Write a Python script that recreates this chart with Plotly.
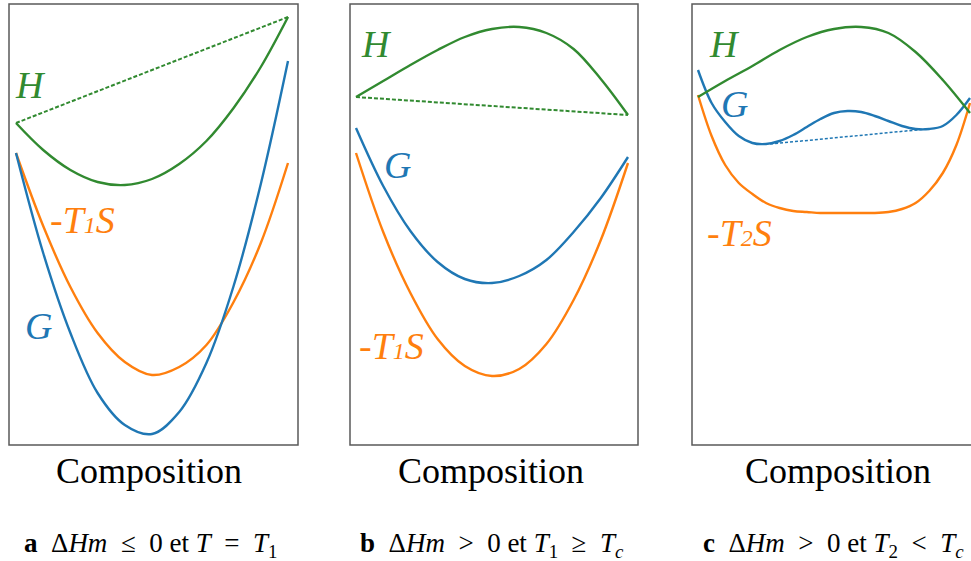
"""
Free-energy of mixing sketches: H, -TS and G versus composition (three cases).
"""

import plotly.graph_objects as go

# composition grid (fraction across each panel)
comp = [0.0, 0.1, 0.2, 0.3, 0.4, 0.5, 0.6, 0.7, 0.8, 0.9, 1.0]
comp_fine = [0.0, 0.05, 0.1, 0.15, 0.2, 0.25, 0.3, 0.35, 0.4, 0.45, 0.5,
             0.55, 0.6, 0.65, 0.7, 0.75, 0.8, 0.85, 0.9, 0.95, 1.0]

# panel a : dHm <= 0, T = T1
h_a = [322, 295, 275, 263, 260, 266, 281, 304, 337, 378, 428]
ts_a = [292, 219, 158, 112, 83, 70, 78, 100, 143, 202, 282]
g_a = [292, 192, 112, 52, 20, 11, 33, 82, 159, 261, 384]
h_a_chord = [322, 428]

# panel b : dHm > 0, T1 >= Tc
h_b = [348, 364, 380, 395, 408, 416, 418, 412, 396, 366, 330]
ts_b = [292, 213, 152, 106, 79, 69, 76, 101, 145, 205, 282]
g_b = [317, 259, 214, 183, 166, 162, 169, 185, 213, 247, 288]
h_b_chord = [348, 330]

# panel c : dHm > 0, T2 < Tc
h_c = [348, 364, 379, 395, 408, 416, 418, 412, 393, 365, 332]
ts_c = [350, 309, 280, 262, 251, 242, 237, 234, 233, 232, 232,
        232, 232, 232, 233, 236, 242, 254, 272, 300, 342]
g_c = [375, 342, 323, 309, 302, 301, 304, 310, 318, 326, 332,
       334, 333, 329, 324, 319, 316, 316, 319, 330, 347]
g_c_tangent_x = [0.265, 0.842]
g_c_tangent = [301, 316]

SP = "\u2002"
captions = [
    f"<b>a</b>{SP}Δ<i>Hm</i>{SP}≤{SP}0 et <i>T</i>{SP}={SP}<i>T</i><sub>1</sub>",
    f"<b>b</b>{SP}Δ<i>Hm</i>{SP}>{SP}0 et <i>T</i><sub>1</sub>{SP}≥{SP}<i>T<sub>c</sub></i>",
    f"<b>c</b>{SP}Δ<i>Hm</i>{SP}>{SP}0 et <i>T</i><sub>2</sub>{SP}<{SP}<i>T<sub>c</sub></i>",
]

GREEN = "#318a30"
BLUE = "#1f77b4"
ORANGE = "#ff7f0e"
W, H = 971, 561


def px(x):
    return x / W


def py(y):
    return 1 - y / H


fig = go.Figure()


def curve(x, y, color, axis, width=2.4, dash=None):
    fig.add_trace(go.Scatter(
        x=x, y=y, mode="lines", xaxis="x" + axis, yaxis="y" + axis,
        line=dict(color=color, width=width, shape="spline", smoothing=1.0, dash=dash),
        hoverinfo="skip", showlegend=False,
    ))


curve(comp, ts_a, ORANGE, "")
curve(comp, g_a, BLUE, "")
curve(comp, h_a, GREEN, "")
curve([0, 1], h_a_chord, GREEN, "", width=2, dash="4px,2px")

curve(comp, ts_b, ORANGE, "2")
curve(comp, g_b, BLUE, "2")
curve(comp, h_b, GREEN, "2")
curve([0, 1], h_b_chord, GREEN, "2", width=2, dash="4px,2px")

curve(comp_fine, ts_c, ORANGE, "3")
curve(comp_fine, g_c, BLUE, "3")
curve(comp, h_c, GREEN, "3")
curve(g_c_tangent_x, g_c_tangent, BLUE, "3", width=1.5, dash="3px,2px")

# panel boxes in screen pixels: left, right, curve start
panels = [(9, 298, 16), (350, 638, 356), (692, 981, 698)]
y_top, y_bot = 4, 445
ydom = [py(y_bot), py(y_top)]

layout = dict(
    width=W, height=H, margin=dict(l=0, r=0, t=0, b=0),
    paper_bgcolor="white", plot_bgcolor="white",
)
for i, (left, right, start) in enumerate(panels):
    suffix = "" if i == 0 else str(i + 1)
    r = min(right, W)
    layout["xaxis" + suffix] = dict(
        domain=[px(left), px(r)], range=[(left - start) / 272, (r - start) / 272],
        visible=False, fixedrange=True, anchor="y" + suffix,
    )
    layout["yaxis" + suffix] = dict(
        domain=ydom, range=[0, y_bot - y_top], visible=False, fixedrange=True,
        anchor="x" + suffix,
    )
fig.update_layout(**layout)

shapes = []
for left, right, start in panels:
    shapes.append(dict(type="rect", xref="paper", yref="paper",
                       x0=px(left), x1=px(right), y0=ydom[0], y1=ydom[1],
                       line=dict(color="#5a5a5a", width=1.5)))
fig.update_layout(shapes=shapes)

label_font = dict(family="Liberation Serif", size=38, style="italic")
sub1 = "-T<span style='font-size:24px'>1</span>S"
sub2 = "-T<span style='font-size:24px'>2</span>S"
labels = [
    ("", 0.055, 360, "H", GREEN), ("", 0.246, 225, sub1, ORANGE), ("", 0.081, 119, "G", BLUE),
    ("2", 0.077, 401, "H", GREEN), ("2", 0.151, 280, "G", BLUE), ("2", 0.129, 99, sub1, ORANGE),
    ("3", 0.096, 401, "H", GREEN), ("3", 0.136, 341, "G", BLUE), ("3", 0.154, 212, sub2, ORANGE),
]
for ax, x, y, txt, col in labels:
    fig.add_annotation(x=x, y=y, xref="x" + ax, yref="y" + ax, text=txt,
                       showarrow=False, font=dict(label_font, color=col))

for cx in [149, 491, 838]:
    fig.add_annotation(x=px(cx), y=py(471), xref="paper", yref="paper",
                       xanchor="center", yanchor="middle",
                       text="Composition", showarrow=False,
                       font=dict(family="Liberation Serif", size=36, color="black"))

for cx, cap in zip([150, 492, 833], captions):
    fig.add_annotation(x=px(cx), y=py(545), xref="paper", yref="paper",
                       xanchor="center", yanchor="middle",
                       text=cap, showarrow=False,
                       font=dict(family="Liberation Serif", size=27, color="black"))

# drop the browser's default 8px body margin so the figure sits at the page corner
fig.write_html("out.html", config={"displayModeBar": False},
               post_script="document.body.style.margin = '0';")
